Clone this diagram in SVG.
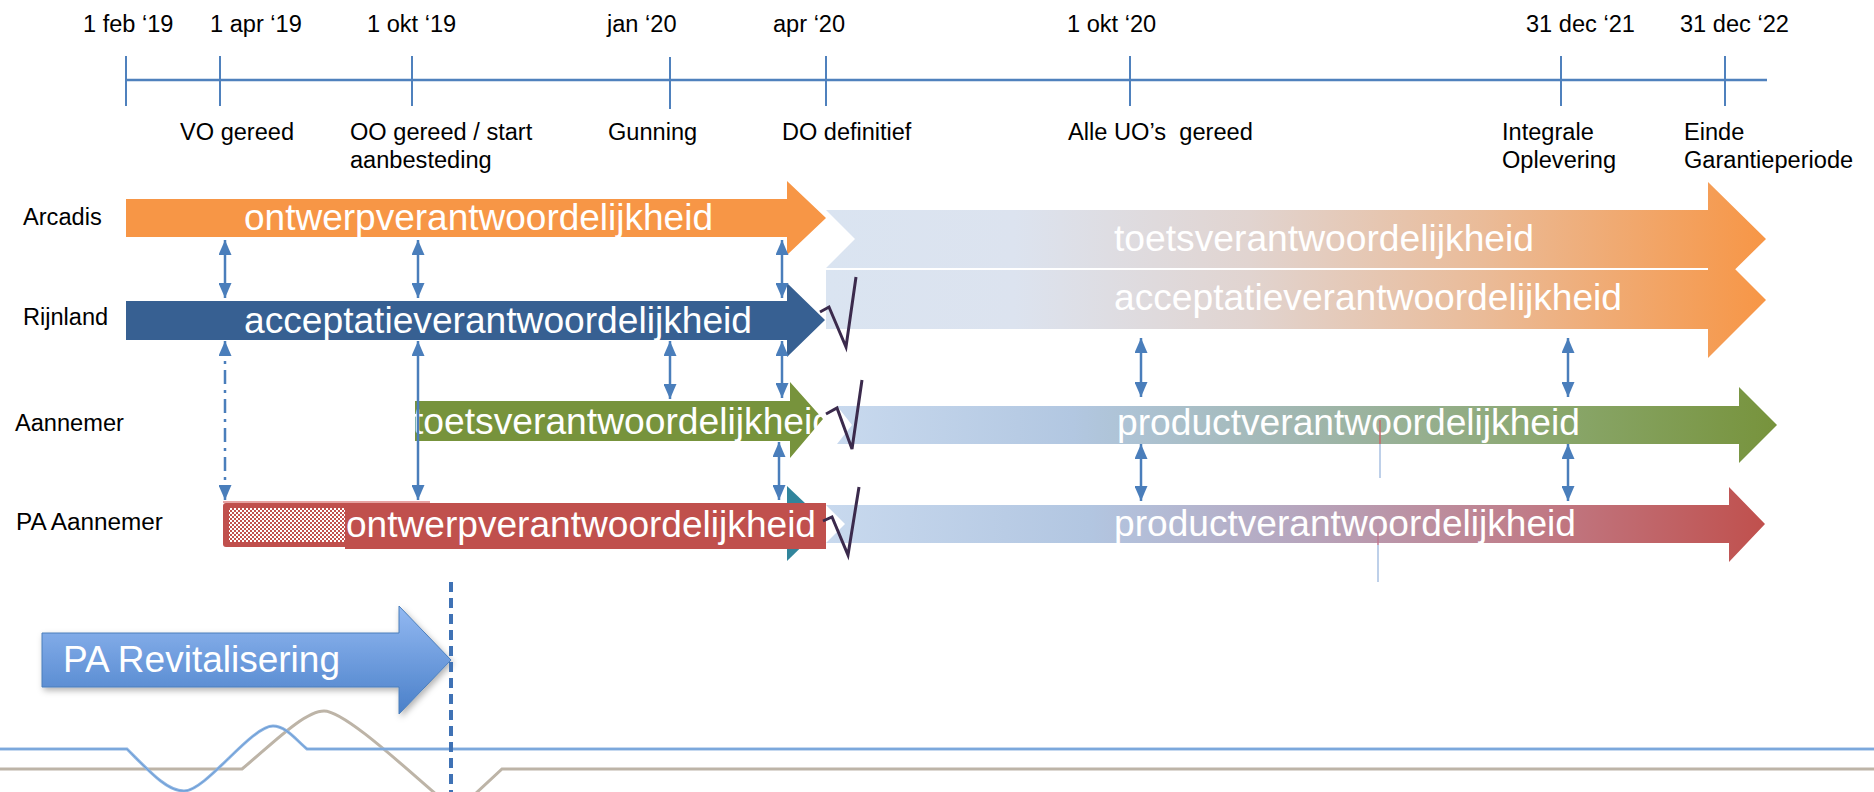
<svg xmlns="http://www.w3.org/2000/svg" width="1874" height="792" viewBox="0 0 1874 792">
<style>
.lbl{font-family:"Liberation Sans",Arial,sans-serif;font-size:23px;fill:#000}
.big{font-family:"Liberation Sans",Arial,sans-serif;font-size:36px;fill:#fff}
.tl{stroke:#4F81BD;stroke-width:2.5;fill:none}
.conn{stroke:#4A7EBB;stroke-width:2.5;fill:none;marker-start:url(#ah);marker-end:url(#ah)}
.chk{stroke:#3B2A4C;stroke-width:3;fill:none;stroke-linejoin:miter}
</style>
<defs>
<marker id="ah" markerUnits="userSpaceOnUse" markerWidth="15" markerHeight="13" refX="15" refY="6.5" orient="auto-start-reverse">
<path d="M0,0 L15,6.5 L0,13 Z" fill="#4A7EBB"/>
</marker>
<linearGradient id="gOr" x1="0" y1="0" x2="1" y2="0">
<stop offset="0" stop-color="#DAE4F1"/>
<stop offset="0.2" stop-color="#DCE3EF"/>
<stop offset="0.45" stop-color="#E1D4D0"/>
<stop offset="0.7" stop-color="#EABB98"/>
<stop offset="1" stop-color="#F79646"/>
</linearGradient>
<linearGradient id="gGr" x1="0" y1="0" x2="1" y2="0">
<stop offset="0" stop-color="#C8D9EE"/>
<stop offset="0.25" stop-color="#B2C7E1"/>
<stop offset="0.5" stop-color="#A0B6AE"/>
<stop offset="0.75" stop-color="#8BA86F"/>
<stop offset="1" stop-color="#77933C"/>
</linearGradient>
<linearGradient id="gRd" x1="0" y1="0" x2="1" y2="0">
<stop offset="0" stop-color="#C8D9EE"/>
<stop offset="0.28" stop-color="#B2C6E1"/>
<stop offset="0.5" stop-color="#B6A6BE"/>
<stop offset="0.75" stop-color="#C07C88"/>
<stop offset="1" stop-color="#C0504D"/>
</linearGradient>
<linearGradient id="gPA" x1="0" y1="0" x2="0" y2="1">
<stop offset="0" stop-color="#93B9F2"/>
<stop offset="1" stop-color="#4A80C9"/>
</linearGradient>
<pattern id="chkp" width="4" height="4" patternUnits="userSpaceOnUse">
<rect width="4" height="4" fill="#fff"/>
<rect width="2" height="2" fill="#C0504D"/>
<rect x="2" y="2" width="2" height="2" fill="#C0504D"/>
</pattern>
<clipPath id="clipG"><rect x="415" y="380" width="411" height="80"/></clipPath>
<filter id="sh" x="-10%" y="-10%" width="130%" height="140%">
<feDropShadow dx="2" dy="3" stdDeviation="3" flood-color="#000" flood-opacity="0.3"/>
</filter>
</defs>
<rect width="1874" height="792" fill="#fff"/>

<g id="timeline">
<path class="tl" d="M125,80 H1767"/>
<path class="tl" style="stroke-width:2" d="M126,56 V106 M220,56 V106 M412,56 V106 M670,57 V109 M826,56 V106 M1130,56 V106 M1561,56 V106 M1725,56 V106"/>
<g class="lbl">
<text x="83" y="32" textLength="90.5" lengthAdjust="spacingAndGlyphs">1 feb ‘19</text>
<text x="210" y="32" textLength="91.8" lengthAdjust="spacingAndGlyphs">1 apr ‘19</text>
<text x="367" y="32" textLength="89.2" lengthAdjust="spacingAndGlyphs">1 okt ‘19</text>
<text x="607" y="32" textLength="69.5" lengthAdjust="spacingAndGlyphs">jan ‘20</text>
<text x="773" y="32" textLength="72.1" lengthAdjust="spacingAndGlyphs">apr ‘20</text>
<text x="1067" y="32" textLength="89.2" lengthAdjust="spacingAndGlyphs">1 okt ‘20</text>
<text x="1526" y="32" textLength="108.9" lengthAdjust="spacingAndGlyphs">31 dec ‘21</text>
<text x="1680" y="32" textLength="108.9" lengthAdjust="spacingAndGlyphs">31 dec ‘22</text>
<text x="180" y="140" textLength="114.1" lengthAdjust="spacingAndGlyphs">VO gereed</text>
<text x="350" y="140" textLength="182.3" lengthAdjust="spacingAndGlyphs">OO gereed / start</text>
<text x="350" y="168" textLength="141.7" lengthAdjust="spacingAndGlyphs">aanbesteding</text>
<text x="608" y="140" textLength="89.2" lengthAdjust="spacingAndGlyphs">Gunning</text>
<text x="782" y="140" textLength="129.4" lengthAdjust="spacingAndGlyphs">DO definitief</text>
<text x="1068" y="140" textLength="184.9" lengthAdjust="spacingAndGlyphs">Alle UO’s&#160; gereed</text>
<text x="1502" y="140" textLength="91.8" lengthAdjust="spacingAndGlyphs">Integrale</text>
<text x="1502" y="168" textLength="114.1" lengthAdjust="spacingAndGlyphs">Oplevering</text>
<text x="1684" y="140" textLength="60.3" lengthAdjust="spacingAndGlyphs">Einde</text>
<text x="1684" y="168" textLength="169.2" lengthAdjust="spacingAndGlyphs">Garantieperiode</text>
</g>
</g>

<g id="row-labels" class="lbl">
<text x="23" y="225" textLength="78.7" lengthAdjust="spacingAndGlyphs">Arcadis</text>
<text x="23" y="325" textLength="85.2" lengthAdjust="spacingAndGlyphs">Rijnland</text>
<text x="15" y="431" textLength="108.9" lengthAdjust="spacingAndGlyphs">Aannemer</text>
<text x="16" y="530" textLength="146.9" lengthAdjust="spacingAndGlyphs">PA Aannemer</text>
</g>

<g id="arcadis-toets">
<path d="M826,210 H1708 V182 L1766,239 L1708,296 V268 H826 L855,239 Z" fill="url(#gOr)"/>
<text class="big" x="1114" y="251" textLength="420" lengthAdjust="spacingAndGlyphs">toetsverantwoordelijkheid</text>
</g>
<g id="rijnland-acceptatie-2">
<path d="M826,270 H1708 V242 L1766,300 L1708,358 V329 H826 Z" fill="url(#gOr)"/>
<text class="big" x="1114" y="310" textLength="508" lengthAdjust="spacingAndGlyphs">acceptatieverantwoordelijkheid</text>
</g>
<g id="arcadis-ontwerp">
<path d="M126,199 H787 V181 L826,218 L787,255 V237 H126 Z" fill="#F79646"/>
<text class="big" x="244" y="230" textLength="469" lengthAdjust="spacingAndGlyphs">ontwerpverantwoordelijkheid</text>
</g>
<g id="rijnland-acceptatie">
<path d="M126,301 H787 V283 L825,320 L787,357 V340 H126 Z" fill="#376092"/>
<text class="big" x="244" y="333" textLength="508" lengthAdjust="spacingAndGlyphs">acceptatieverantwoordelijkheid</text>
</g>
<g id="aannemer-product">
<path d="M837,406 H1739 V387 L1777,425 L1739,463 V444 H837 L852,425 Z" fill="url(#gGr)"/>
<text class="big" x="1117" y="435" textLength="463" lengthAdjust="spacingAndGlyphs">productverantwoordelijkheid</text>
</g>
<g id="aannemer-toets">
<path d="M415,401 H790 V382 L823,419 L790,458 V441 H415 Z" fill="#77933C"/>
<text class="big" x="413" y="434" textLength="420" lengthAdjust="spacingAndGlyphs" clip-path="url(#clipG)">toetsverantwoordelijkheid</text>
</g>
<g id="pa-aannemer-product">
<path d="M826,505 H1729 V487 L1765,524 L1729,562 V543 H826 L845,524 Z" fill="url(#gRd)"/>
<text class="big" x="1114" y="536" textLength="462" lengthAdjust="spacingAndGlyphs">productverantwoordelijkheid</text>
</g>
<g id="pa-aannemer-ontwerp">
<path d="M787,486 L826,523 L787,561 Z" fill="#31859C"/>
<path d="M223,502 H430" stroke="#E6A3A2" stroke-width="2"/>
<rect x="223" y="503" width="140" height="44" rx="3" fill="#C0504D"/>
<rect x="229" y="508" width="116" height="34" fill="url(#chkp)"/>
<rect x="345" y="503" width="481" height="46" fill="#C0504D"/>
<text class="big" x="346" y="537" textLength="470" lengthAdjust="spacingAndGlyphs">ontwerpverantwoordelijkheid</text>
</g>
<g id="checks">
<path class="chk" d="M820,312 L829,307 L846,347 L856,277"/>
<path class="chk" d="M826,414 L837,408 L852,449 L862,380"/>
<path class="chk" d="M823,521 L832,517 L848,555 L859,487"/>
</g>
<g id="marks" fill="none" stroke-width="1.5">
<path d="M1380,420 V444" stroke="#C8676A"/>
<path d="M1380,444 V478" stroke="#A9C1E2"/>
<path d="M1378,532 V545" stroke="#C27890"/>
<path d="M1378,545 V582" stroke="#A9C1E2"/>
</g>

<g id="connectors">
<path class="conn" d="M225,240 V298"/>
<path class="conn" d="M418,240 V298"/>
<path class="conn" d="M782,240 V298"/>
<path class="conn" d="M225,341 V500" stroke-dasharray="14 6 3 6"/>
<path class="conn" d="M418,341 V500"/>
<path class="conn" d="M670,341 V399"/>
<path class="conn" d="M782,341 V398"/>
<path class="conn" d="M779,442 V500"/>
<path class="conn" d="M1141,338 V397"/>
<path class="conn" d="M1141,444 V501"/>
<path class="conn" d="M1568,338 V397"/>
<path class="conn" d="M1568,444 V501"/>
</g>

<g id="pa-revitalisering">
<path d="M42,633 H399 V606 L451,660 L399,714 V687 H42 Z" fill="url(#gPA)" stroke="#4A7EBB" stroke-width="1" filter="url(#sh)"/>
<text class="big" x="63" y="672" textLength="277" lengthAdjust="spacingAndGlyphs">PA Revitalisering</text>
</g>

<g id="waves" fill="none">
<path d="M0,769 H242 C270,746 304,711 324,711 C344,711 402,765 437,795" stroke="#BDB4A7" stroke-width="3"/>
<path d="M474,795 L502,769 H1874" stroke="#BDB4A7" stroke-width="3"/>
<path d="M0,749 H127 C150,772 167,791 184,791 C206,791 251,726 273,726 C286,726 296,740 307,749 H1874" stroke="#8DB4E2" stroke-width="3"/>
<path d="M0,749 H127 C150,772 167,791 184,791 C206,791 251,726 273,726 C286,726 296,740 307,749 H1874" stroke="#6A9CD6" stroke-width="1"/>
</g>

<path id="revitalisering-end" d="M451,582 V792" stroke="#3F72B5" stroke-width="4" stroke-dasharray="10 6" fill="none"/>
</svg>
